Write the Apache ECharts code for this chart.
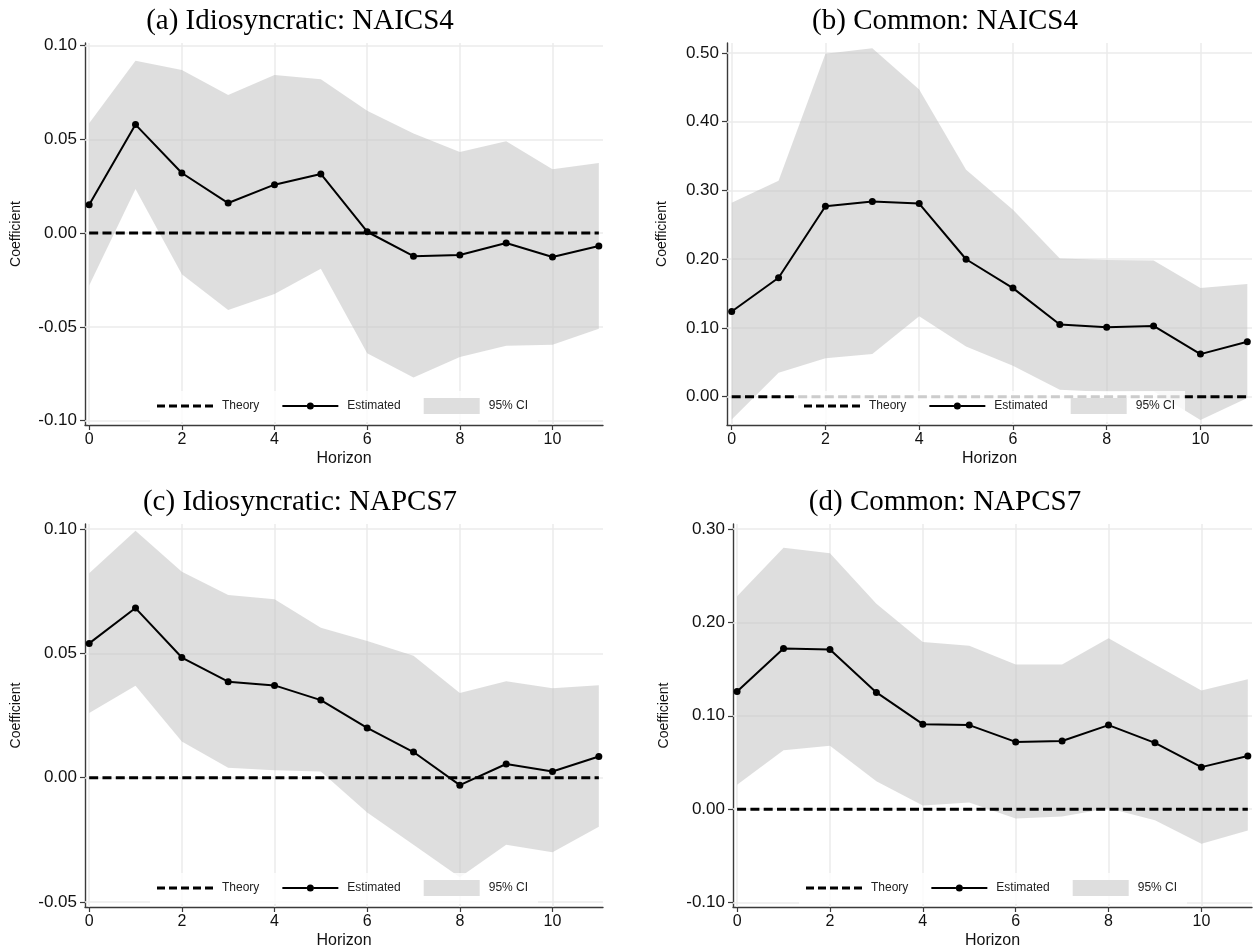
<!DOCTYPE html>
<html><head><meta charset="utf-8">
<script src="https://cdn.jsdelivr.net/npm/echarts@6/dist/echarts.min.js"></script>
<style>html,body{margin:0;padding:0;background:#fff}#c{width:1253px;height:952px}</style>
</head><body><div id="c"></div>
<script>
// ---------------- data ----------------
const horizons = [0,1,2,3,4,5,6,7,8,9,10,11];
const xTickValues = [0,2,4,6,8,10];
const legendNames = ['Theory','Estimated','95% CI'];
const titles = ['(a) Idiosyncratic: NAICS4','(b) Common: NAICS4','(c) Idiosyncratic: NAPCS7','(d) Common: NAPCS7'];

const estA = [0.0151, 0.0578, 0.0320, 0.0160, 0.0258, 0.0315, 0.0007, -0.0123, -0.0117, -0.0053, -0.0128, -0.0069];
const upA  = [0.0585, 0.0919, 0.0869, 0.0736, 0.0843, 0.0820, 0.0652, 0.0530, 0.0432, 0.0490, 0.0340, 0.0373];
const lowA = [-0.0280, 0.0235, -0.0220, -0.0410, -0.0325, -0.0190, -0.0640, -0.0770, -0.0660, -0.0600, -0.0595, -0.0510];
const yTicksA = [-0.10, -0.05, 0, 0.05, 0.10];

const estB = [0.124, 0.173, 0.277, 0.284, 0.281, 0.200, 0.158, 0.105, 0.101, 0.103, 0.062, 0.080];
const upB  = [0.282, 0.314, 0.499, 0.507, 0.447, 0.330, 0.272, 0.201, 0.199, 0.198, 0.158, 0.164];
const lowB = [-0.033, 0.035, 0.056, 0.062, 0.117, 0.073, 0.045, 0.010, 0.007, 0.008, -0.034, -0.002];
const yTicksB = [0, 0.10, 0.20, 0.30, 0.40, 0.50];

const estC = [0.0540, 0.0682, 0.0483, 0.0386, 0.0371, 0.0312, 0.0200, 0.0103, -0.0030, 0.0055, 0.0025, 0.0085];
const upC  = [0.0822, 0.0993, 0.0828, 0.0735, 0.0717, 0.0603, 0.0550, 0.0490, 0.0340, 0.0388, 0.0360, 0.0372];
const lowC = [0.0260, 0.0370, 0.0145, 0.0040, 0.0030, 0.0025, -0.0140, -0.0270, -0.0400, -0.0270, -0.0300, -0.0197];
const yTicksC = [-0.05, 0, 0.05, 0.10];

const estD = [0.126, 0.172, 0.171, 0.125, 0.091, 0.090, 0.072, 0.073, 0.090, 0.071, 0.045, 0.057];
const upD  = [0.228, 0.280, 0.274, 0.220, 0.179, 0.175, 0.155, 0.155, 0.183, 0.155, 0.127, 0.139];
const lowD = [0.026, 0.063, 0.068, 0.030, 0.004, 0.007, -0.010, -0.008, 0.001, -0.012, -0.037, -0.023];
const yTicksD = [-0.10, 0, 0.10, 0.20, 0.30];

const theoryValue = 0;

// ---------------- layout ----------------
const panels = [
  {est: estA, up: upA, low: lowA, yTicks: yTicksA, left: 85,  top: 43,  right: 603,  bottom: 425, xmin: -0.09, xmax: 11.09, ymin: -0.1023, ymax: 0.1013, nameGap: 62, titleX: 300, titleY: 7,   legX: 150, legY: 391},
  {est: estB, up: upB, low: lowB, yTicks: yTicksB, left: 727, top: 43,  right: 1252, bottom: 425, xmin: -0.10, xmax: 11.10, ymin: -0.0411, ymax: 0.5145, nameGap: 58, titleX: 945, titleY: 7,   legX: 797, legY: 391},
  {est: estC, up: upC, low: lowC, yTicks: yTicksC, left: 85,  top: 524, right: 603,  bottom: 907, xmin: -0.09, xmax: 11.09, ymin: -0.0520, ymax: 0.1020, nameGap: 62, titleX: 300, titleY: 488, legX: 150, legY: 873},
  {est: estD, up: upD, low: lowD, yTicks: yTicksD, left: 733, top: 524, right: 1252, bottom: 907, xmin: -0.088, xmax: 11.09, ymin: -0.1048, ymax: 0.3054, nameGap: 62, titleX: 945, titleY: 488, legX: 799, legY: 873}
];

const SANS = 'Liberation Sans, Arial, Helvetica, sans-serif';
const SERIF = 'Liberation Serif, Times New Roman, serif';
const AXIS_COLOR = '#3a3a3a';
const GRID_COLOR = '#ebebeb';
const BAND_COLOR = 'rgba(190,190,190,0.5)';

const THEORY_ICON = 'path://M0,0h0.01v0.01h-0.01zM55.99,15.99h0.01v0.01h-0.01zM0,6.5h8v3h-8zM12,6.5h8v3h-8zM24,6.5h8v3h-8zM36,6.5h8v3h-8zM48,6.5h8v3h-8z';
const EST_ICON = 'path://M0,0h0.01v0.01h-0.01zM55.99,15.99h0.01v0.01h-0.01zM0,7h24.6v2h-24.6zM31.4,7h24.6v2h-24.6zM24.5,8a3.5,3.5 0 1,0 7,0a3.5,3.5 0 1,0 -7,0z';

const option = {
  animation: false,
  backgroundColor: '#ffffff',
  title: [], grid: [], xAxis: [], yAxis: [], series: [], legend: []
};

panels.forEach((p, i) => {
  option.title.push({
    text: titles[i], left: p.titleX, top: p.titleY, textAlign: 'center', padding: 0,
    textStyle: {fontFamily: SERIF, fontSize: 29, fontWeight: 'normal', color: '#000'}
  });
  option.grid.push({left: p.left, top: p.top, width: p.right - p.left, height: p.bottom - p.top, containLabel: false});
  option.xAxis.push({
    gridIndex: i, type: 'value', min: p.xmin, max: p.xmax,
    name: 'Horizon', nameLocation: 'middle', nameGap: 26,
    nameTextStyle: {fontFamily: SANS, fontSize: 16, color: '#111'},
    axisLine: {show: true, onZero: false, lineStyle: {color: AXIS_COLOR, width: 1.4}},
    axisTick: {show: true, length: 5, customValues: xTickValues, lineStyle: {color: AXIS_COLOR, width: 1.2}},
    axisLabel: {customValues: xTickValues, fontFamily: SANS, fontSize: 16, color: '#111', margin: 7},
    splitLine: {show: false}
  });
  option.yAxis.push({
    gridIndex: i, type: 'value', min: p.ymin, max: p.ymax,
    name: 'Coefficient', nameLocation: 'middle', nameGap: p.nameGap,
    nameTextStyle: {fontFamily: SANS, fontSize: 14, color: '#111'},
    axisLine: {show: true, onZero: false, lineStyle: {color: AXIS_COLOR, width: 1.4}},
    axisTick: {show: true, length: 5, customValues: p.yTicks, lineStyle: {color: AXIS_COLOR, width: 1.2}},
    axisLabel: {customValues: p.yTicks, fontFamily: SANS, fontSize: 17, color: '#111', margin: 8,
      formatter: v => (Math.abs(v) < 1e-9 ? 0 : v).toFixed(2)},
    splitLine: {show: false}
  });
  // gridlines (through the axes' scales)
  option.series.push({
    type: 'line', name: 'grid' + i, xAxisIndex: i, yAxisIndex: i, data: [], silent: true, z: 1,
    markLine: {
      silent: true, symbol: 'none', animation: false, z: 1,
      label: {show: false},
      lineStyle: {color: GRID_COLOR, width: 1.5, type: 'solid'},
      emphasis: {disabled: true},
      data: xTickValues.map(v => ({xAxis: v})).concat(p.yTicks.map(v => ({yAxis: v})))
    }
  });
  // CI band as one polygon through the axes' coordinate system
  option.series.push({
    type: 'custom', name: '95% CI', xAxisIndex: i, yAxisIndex: i, z: 2, silent: true, clip: true,
    itemStyle: {color: '#dedede'},
    data: horizons.map((h, k) => [h, p.low[k], p.up[k]]),
    renderItem: (params, api) => {
      if (params.dataIndex !== 0) return null;
      const upper = horizons.map((h, k) => api.coord([h, p.up[k]]));
      const lower = horizons.map((h, k) => api.coord([h, p.low[k]])).reverse();
      return {type: 'polygon', shape: {points: upper.concat(lower)}, style: {fill: BAND_COLOR}};
    }
  });
  option.series.push({
    type: 'line', name: 'Theory', xAxisIndex: i, yAxisIndex: i, z: 3, symbol: 'none', silent: true,
    lineStyle: {color: '#000', width: 3, type: [9, 4.3]},
    itemStyle: {color: '#000'},
    data: [[horizons[0], theoryValue], [horizons[horizons.length - 1], theoryValue]]
  });
  option.series.push({
    type: 'line', name: 'Estimated', xAxisIndex: i, yAxisIndex: i, z: 4, silent: true,
    symbol: 'circle', symbolSize: 7, showSymbol: true,
    lineStyle: {color: '#000', width: 2},
    itemStyle: {color: '#000'},
    data: horizons.map((h, k) => [h, p.est[k]])
  });
  option.legend.push({
    left: p.legX, top: p.legY, orient: 'horizontal',
    backgroundColor: 'rgba(255,255,255,0.8)', borderWidth: 0,
    padding: [7, 10, 8, 7], itemGap: 23, itemWidth: 56, itemHeight: 16,
    selectedMode: false, z: 10,
    itemStyle: {borderWidth: 0},
    textStyle: {fontFamily: SANS, fontSize: 12, color: '#222', padding: [0, 0, 0, 4]},
    data: [
      {name: legendNames[0], icon: THEORY_ICON},
      {name: legendNames[1], icon: EST_ICON},
      {name: legendNames[2], icon: 'rect', itemStyle: {color: '#dedede'}}
    ]
  });
});

const chart = echarts.init(document.getElementById('c'), null, {renderer: 'canvas'});
chart.setOption(option);
</script>
</body></html>
